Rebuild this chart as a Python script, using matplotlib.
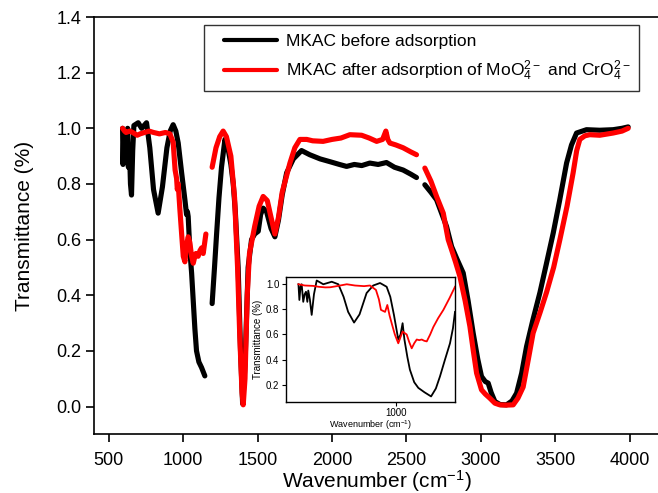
import numpy as np
import matplotlib
matplotlib.use("Agg")
import matplotlib.pyplot as plt
from matplotlib.lines import Line2D
from matplotlib.legend_handler import HandlerLine2D

nan = np.nan

# main spectrum, MKAC before adsorption (gaps as nan)
wn_before = [592, 595, 600, 606, 612, 619, 626, 631, 638, 645, 652, 660, 668, 697, 720,
             753, 775, 800, 831, 860, 890, 912, 932, 950, 966, 989, 1011, 1022, 1028,
             1033, 1044, 1056, 1067, 1078, 1089, 1105, 1123, 1145, nan,
             1194, 1210, 1224, 1240, 1257, 1280, 1300, 1320, 1336, 1350, 1369, 1385,
             1399, 1415, 1436, 1459, 1480, 1504, 1520, 1537, 1560, 1590, 1616, 1640,
             1665, 1695, 1740, 1795, 1850, 1920, 1986, 2050, 2098, 2150, 2200, 2254,
             2310, 2366, 2420, 2478, 2530, 2568, nan,
             2624, 2665, 2703, 2740, 2770, 2804, 2840, 2882, 2915, 2949, 2980, 3005,
             3030, 3050, 3070, 3095, 3130, 3173, 3210, 3241, 3275, 3308, 3350, 3398,
             3440, 3487, 3530, 3577, 3610, 3644, 3711, 3800, 3890, 3950, 3991]
t_before = [1.0, 0.87, 0.98, 0.88, 0.95, 0.90, 1.0, 0.86, 0.93, 0.80, 0.76, 0.92, 1.01, 1.02, 1.0,
            1.02, 0.93, 0.78, 0.695, 0.79, 0.93, 0.99, 1.013, 0.99, 0.947, 0.84, 0.743, 0.69, 0.70,
            0.683, 0.563, 0.48, 0.38, 0.28, 0.20, 0.16, 0.14, 0.11, nan,
            0.37, 0.50, 0.62, 0.75, 0.86, 0.96, 0.93, 0.87, 0.80, 0.70, 0.50, 0.20,
            0.01, 0.15, 0.50, 0.60, 0.62, 0.63, 0.69, 0.713, 0.70, 0.64, 0.61, 0.67,
            0.76, 0.84, 0.89, 0.92, 0.905, 0.89, 0.88, 0.87, 0.863, 0.87, 0.866, 0.875,
            0.87, 0.877, 0.86, 0.85, 0.835, 0.823, nan,
            0.797, 0.77, 0.743, 0.69, 0.647, 0.575, 0.53, 0.48, 0.38, 0.264, 0.17, 0.108,
            0.09, 0.084, 0.05, 0.018, 0.007, 0.006, 0.02, 0.048, 0.12, 0.216, 0.31, 0.41,
            0.51, 0.623, 0.74, 0.875, 0.94, 0.983, 0.995, 0.993, 0.995, 1.0, 1.005]

# main spectrum, MKAC after adsorption
wn_after = [592, 605, 615, 640, 660, 690, 710, 740, 770, 800, 840, 880, 910, 932, 945,
            955, 960, 966, 977, 989, 1000, 1011, 1022, 1033, 1044, 1056, 1067, 1078,
            1085, 1100, 1112, 1123, 1134, 1152, nan,
            1194, 1220, 1245, 1268, 1290, 1320, 1345, 1365, 1380, 1395, 1403, 1415,
            1430, 1445, 1481, 1510, 1537, 1565, 1590, 1616, 1640, 1665, 1695, 1717,
            1750, 1784, 1830, 1870, 1940, 2000, 2060, 2120, 2199, 2250, 2300, 2340,
            2362, 2375, 2389, 2430, 2478, 2530, 2568, nan,
            2624, 2665, 2703, 2748, 2781, 2804, 2830, 2860, 2895, 2927, 2950, 2972,
            3005, 3030, 3061, 3095, 3128, 3170, 3218, 3250, 3285, 3320, 3352, 3400,
            3442, 3490, 3532, 3580, 3621, 3645, 3666, 3700, 3733, 3800, 3890, 3950, 3991]
t_after = [1.0, 0.99, 0.985, 0.99, 0.985, 0.975, 0.98, 0.985, 0.99, 0.985, 0.98, 0.985, 0.98, 0.95, 0.85,
           0.82, 0.78, 0.80, 0.71, 0.62, 0.54, 0.52, 0.58, 0.61, 0.59, 0.54, 0.515, 0.54,
           0.55, 0.54, 0.56, 0.57, 0.55, 0.62, nan,
           0.86, 0.93, 0.97, 0.99, 0.97, 0.90, 0.75, 0.50, 0.25, 0.05, 0.006, 0.10,
           0.40, 0.55, 0.65, 0.72, 0.755, 0.74, 0.68, 0.62, 0.68, 0.77, 0.83, 0.875,
           0.93, 0.96, 0.96, 0.955, 0.953, 0.96, 0.965, 0.977, 0.975, 0.965, 0.953, 0.96,
           0.99, 0.96, 0.947, 0.94, 0.93, 0.915, 0.905, nan,
           0.857, 0.81, 0.755, 0.695, 0.60, 0.563, 0.52, 0.467, 0.38, 0.288, 0.20, 0.12,
           0.06, 0.045, 0.03, 0.012, 0.006, 0.005, 0.006, 0.03, 0.07, 0.17, 0.264, 0.34,
           0.41, 0.50, 0.60, 0.72, 0.84, 0.92, 0.96, 0.973, 0.977, 0.975, 0.983, 0.99, 1.0]

# inset (low wavenumber region)
wn_in_before = [572, 576, 581, 586, 593, 599, 605, 611, 615, 622, 630, 640, 652, 681, 718,
                747, 770, 790, 816, 840, 871, 900, 930, 959, 975, 991, 1010, 1020, 1029,
                1037, 1050, 1061, 1080, 1098, 1125, 1154, 1175, 1193, 1215, 1237, 1250, 1259]
t_in_before = [1.0, 0.875, 0.98, 1.0, 0.86, 0.92, 0.94, 0.86, 0.95, 0.88, 0.756, 0.92, 1.03, 1.0, 1.02,
               1.0, 0.90, 0.78, 0.695, 0.76, 0.93, 0.99, 1.01, 0.98, 0.90, 0.756, 0.56, 0.60, 0.69,
               0.56, 0.42, 0.32, 0.22, 0.175, 0.14, 0.107, 0.17, 0.266, 0.40, 0.53, 0.65, 0.78]
wn_in_after = [572, 600, 637, 660, 690, 711, 740, 784, 820, 860, 886, 912, 925, 934, 952,
               962, 972, 981, 995, 1010, 1020, 1029, 1047, 1058, 1069, 1080, 1091, 1102,
               1113, 1124, 1135, 1150, 1164, 1185, 1208, 1235, 1259]
t_in_after = [1.0, 0.99, 0.987, 0.98, 0.975, 0.976, 0.985, 1.0, 0.99, 0.985, 0.99, 0.955, 0.88, 0.796, 0.78,
              0.835, 0.75, 0.69, 0.60, 0.53, 0.58, 0.623, 0.60, 0.54, 0.49, 0.53, 0.56, 0.555,
              0.56, 0.55, 0.545, 0.60, 0.66, 0.73, 0.796, 0.89, 0.98]

lab_before = "MKAC before adsorption"
lab_after = r"MKAC after adsorption of MoO$_4^{2-}$ and CrO$_4^{2-}$"

plt.rcParams["font.family"] = ["Liberation Sans", "DejaVu Sans"]
plt.rcParams["mathtext.default"] = "regular"

fig = plt.figure(figsize=(6.58, 4.93), dpi=100)

# main axes
ax = fig.add_axes([0.1429, 0.119, 0.859, 0.8465])
ax.plot(wn_before, t_before, color="black", lw=3.7, solid_capstyle="round",
        solid_joinstyle="round", label=lab_before)
ax.plot(wn_after, t_after, color="red", lw=3.7, solid_capstyle="round",
        solid_joinstyle="round", label=lab_after)
ax.set_xlim(400, 4200)
ax.set_ylim(-0.1, 1.4)
ax.set_xticks([500, 1000, 1500, 2000, 2500, 3000, 3500, 4000])
ax.set_yticks([0.0, 0.2, 0.4, 0.6, 0.8, 1.0, 1.2, 1.4])
ax.set_yticklabels(["%.1f" % v for v in ax.get_yticks()])
ax.tick_params(axis="both", direction="out", length=6, width=1.2, labelsize=13)
ax.tick_params(axis="x", pad=7)
ax.tick_params(axis="y", pad=3)
for s in ax.spines.values():
    s.set_linewidth(1.2)
ax.set_xlabel(r"Wavenumber (cm$^{-1}$)", fontsize=15, labelpad=-0.8)
ax.set_ylabel("Transmittance (%)", fontsize=15, labelpad=16)

# legend: extra left room before the handle lines
leg_fs = 12.5
leg = ax.legend(loc="upper left", bbox_to_anchor=(204 / 658, 1 - 25 / 493),
                bbox_transform=fig.transFigure, borderaxespad=0, fontsize=leg_fs,
                frameon=True, fancybox=False, edgecolor="black", handlelength=3.7,
                handletextpad=0.5, labelspacing=0.55, borderpad=0.5,
                handler_map={Line2D: HandlerLine2D(xpad=0.64)})
leg.get_frame().set_linewidth(1.0)
for h in leg.get_lines():
    h.set_linewidth(3.0)

# inset
axi = fig.add_axes([0.4342, 0.1852, 0.2573, 0.2535])
axi.plot(wn_in_before, t_in_before, color="black", lw=1.3)
axi.plot(wn_in_after, t_in_after, color="red", lw=1.3)
axi.set_xlim(516, 1259)
axi.set_ylim(0.065, 1.06)
axi.set_xticks([1000])
axi.set_yticks([0.2, 0.4, 0.6, 0.8, 1.0])
axi.set_yticklabels(["%.1f" % v for v in axi.get_yticks()])
axi.tick_params(axis="both", direction="out", length=3, width=0.8, labelsize=7, pad=1.5)
for s in axi.spines.values():
    s.set_linewidth(1.0)
axi.set_xlabel(r"Wavenumber (cm$^{-1}$)", fontsize=6.5, labelpad=0)
axi.set_ylabel("Transmittance (%)", fontsize=7, labelpad=2)

fig.savefig("out.png", dpi=100)
